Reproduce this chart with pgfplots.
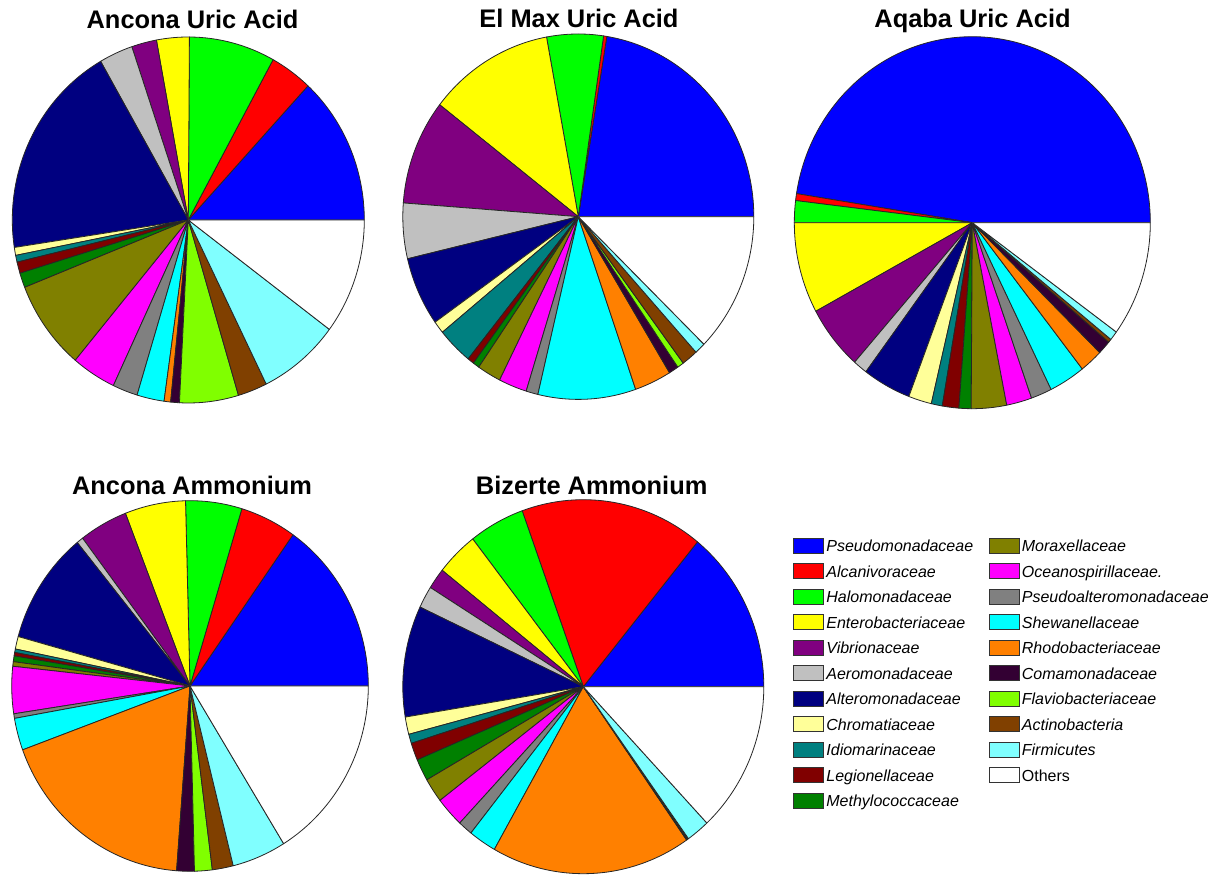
\documentclass[border=0pt]{standalone}
\usepackage{pgfplots}
\usepackage{pgfplotstable}
\pgfplotsset{compat=1.18}
\usepackage{fontspec}
\setmainfont{Liberation Sans}

% family colours, in pie order
\definecolor{cPseudo}{RGB}{0,0,255}
\definecolor{cAlcan}{RGB}{255,0,0}
\definecolor{cHalo}{RGB}{0,255,0}
\definecolor{cEntero}{RGB}{255,255,0}
\definecolor{cVibrio}{RGB}{128,0,128}
\definecolor{cAero}{RGB}{192,192,192}
\definecolor{cAltero}{RGB}{0,0,128}
\definecolor{cChrom}{RGB}{255,255,153}
\definecolor{cIdio}{RGB}{0,128,128}
\definecolor{cLegio}{RGB}{128,0,0}
\definecolor{cMethyl}{RGB}{0,128,0}
\definecolor{cMorax}{RGB}{128,128,0}
\definecolor{cOcean}{RGB}{255,0,255}
\definecolor{cPsAlt}{RGB}{128,128,128}
\definecolor{cShew}{RGB}{0,255,255}
\definecolor{cRhodo}{RGB}{255,128,0}
\definecolor{cComa}{RGB}{51,0,51}
\definecolor{cFlavo}{RGB}{128,255,0}
\definecolor{cActino}{RGB}{128,64,0}
\definecolor{cFirm}{RGB}{128,255,255}
\definecolor{cOther}{RGB}{255,255,255}

\def\famcolors{cPseudo,cAlcan,cHalo,cEntero,cVibrio,cAero,cAltero,cChrom,cIdio,cLegio,cMethyl,cMorax,cOcean,cPsAlt,cShew,cRhodo,cComa,cFlavo,cActino,cFirm,cOther}

% share of each family (%) per sample
\pgfplotstableread{
fam                    ancUA elmUA aqbUA ancAm bizAm
Pseudomonadaceae       13.1  22.4  47.5  15.2  14.1
Alcanivoraceae          3.9   0.3   0.6   5.1  16.4
Halomonadaceae          7.9   5.2   1.9   5.1   5.0
Enterobacteriaceae      3.0  11.6   7.9   5.5   3.8
Vibrionaceae            2.3   9.3   5.6   4.4   1.8
Aeromonadaceae          3.1   4.9   1.3   0.6   1.9
Alteromonadaceae       19.1   6.1   4.4   9.8   9.6
Chromatiaceae           0.7   1.1   2.1   1.1   1.5
Idiomarinaceae          0.6   3.3   1.0   0.3   0.8
Legionellaceae          1.0   0.6   1.5   0.3   1.5
Methylococcaceae        1.3   0.6   1.1   0.5   1.9
Moraxellaceae           7.9   2.2   3.2   0.4   2.1
Oceanospirillaceae      4.1   2.6   2.3   4.1   2.6
Pseudoalteromonadaceae  2.3   1.1   1.9   0.4   1.3
Shewanellaceae          2.5   9.0   3.3   2.8   2.5
Rhodobacteriaceae       0.6   3.4   2.1  18.2  17.9
Comamonadaceae          0.8   0.9   1.2   1.6   0.1
Flaviobacteriaceae      5.4   0.6   0.0   1.6   0.1
Actinobacteria          2.7   1.5   0.3   1.9   0.0
Firmicutes              7.5   1.0   0.8   4.9   2.1
Others                 10.3  12.3  10.1  16.1  13.1
}\shares

% #1 column, #2 cx, #3 cy, #4 x radius, #5 y radius (pixel units of the axis)
\newcommand\drawpie[5]{%
  \gdef\angA{0}%
  \foreach \c [count=\i from 0] in \famcolors {%
    \pgfplotstablegetelem{\i}{#1}\of\shares
    \pgfmathsetmacro\angB{\i==20 ? 360 : \angA+3.6*\pgfplotsretval}%
    \pgfmathsetmacro\px{#2+#4*cos(\angA)}%
    \pgfmathsetmacro\py{#3+#5*sin(\angA)}%
    \fill[\c, draw=black!85, line width=0.4pt, line join=round]
      (axis cs:#2,#3) -- (axis cs:\px,\py)
      arc[start angle=\angA, end angle=\angB, x radius=#4*0.5pt, y radius=#5*0.5pt] -- cycle;
    \global\let\angA\angB
  }%
}

\newcommand\titlefont{\bfseries\fontsize{12.7}{15}\selectfont}
\newcommand\legfont{\fontsize{8}{10}\selectfont}

\begin{document}
\begin{tikzpicture}
\begin{axis}[
  x=0.5pt, y=0.5pt,
  xmin=0, xmax=1224, ymin=0, ymax=874,
  hide axis, clip=false, disabledatascaling,
]
\pgfplotsextra{%
  \path (axis cs:0,0) rectangle (axis cs:1224,874);
  \drawpie{ancUA}{188.3}{654.0}{176}{183}
  \drawpie{elmUA}{578.3}{657.3}{175.5}{182.7}
  \drawpie{aqbUA}{972.3}{651.3}{178}{186}
  \drawpie{ancAm}{190.0}{188.0}{178.3}{185.3}
  \drawpie{bizAm}{583.3}{187.3}{180.5}{187}
  \node[anchor=base, font=\titlefont] at (axis cs:192.5,845.5) {Ancona Uric Acid};
  \node[anchor=base, font=\titlefont] at (axis cs:579,846.7) {El Max Uric Acid};
  \node[anchor=base, font=\titlefont] at (axis cs:972.5,846.5) {Aqaba Uric Acid};
  \node[anchor=base, font=\titlefont] at (axis cs:192,379.7) {Ancona Ammonium};
  \node[anchor=base, font=\titlefont] at (axis cs:591.7,379.7) {Bizerte Ammonium};
  % legend
  \foreach \c/\n [count=\i from 0] in {cPseudo/Pseudomonadaceae, cAlcan/Alcanivoraceae,
      cHalo/Halomonadaceae, cEntero/Enterobacteriaceae, cVibrio/Vibrionaceae,
      cAero/Aeromonadaceae, cAltero/Alteromonadaceae, cChrom/Chromatiaceae,
      cIdio/Idiomarinaceae, cLegio/Legionellaceae, cMethyl/Methylococcaceae} {
    \pgfmathsetmacro\yc{874-(545.7+25.5*\i)}
    \fill[\c, draw=black!80, line width=0.5pt] (axis cs:793,\yc-7.5) rectangle (axis cs:823,\yc+7.5);
    \node[anchor=base west, inner sep=0pt, font=\legfont\itshape] at (axis cs:826,\yc-6) {\n};
  }
  \foreach \c/\n [count=\i from 0] in {cMorax/Moraxellaceae, cOcean/Oceanospirillaceae.,
      cPsAlt/Pseudoalteromonadaceae, cShew/Shewanellaceae, cRhodo/Rhodobacteriaceae,
      cComa/Comamonadaceae, cFlavo/Flaviobacteriaceae, cActino/Actinobacteria,
      cFirm/Firmicutes} {
    \pgfmathsetmacro\yc{874-(545.7+25.5*\i)}
    \fill[\c, draw=black!80, line width=0.5pt] (axis cs:989.5,\yc-7.5) rectangle (axis cs:1019.5,\yc+7.5);
    \node[anchor=base west, inner sep=0pt, font=\legfont\itshape] at (axis cs:1021.5,\yc-6) {\n};
  }
  \pgfmathsetmacro\yc{874-(545.7+25.5*9)}
  \fill[white, draw=black!80, line width=0.5pt] (axis cs:989.5,\yc-7.5) rectangle (axis cs:1019.5,\yc+7.5);
  \node[anchor=base west, inner sep=0pt, font=\legfont] at (axis cs:1021.5,\yc-6) {Others};
}
\end{axis}
\end{tikzpicture}
\end{document}
